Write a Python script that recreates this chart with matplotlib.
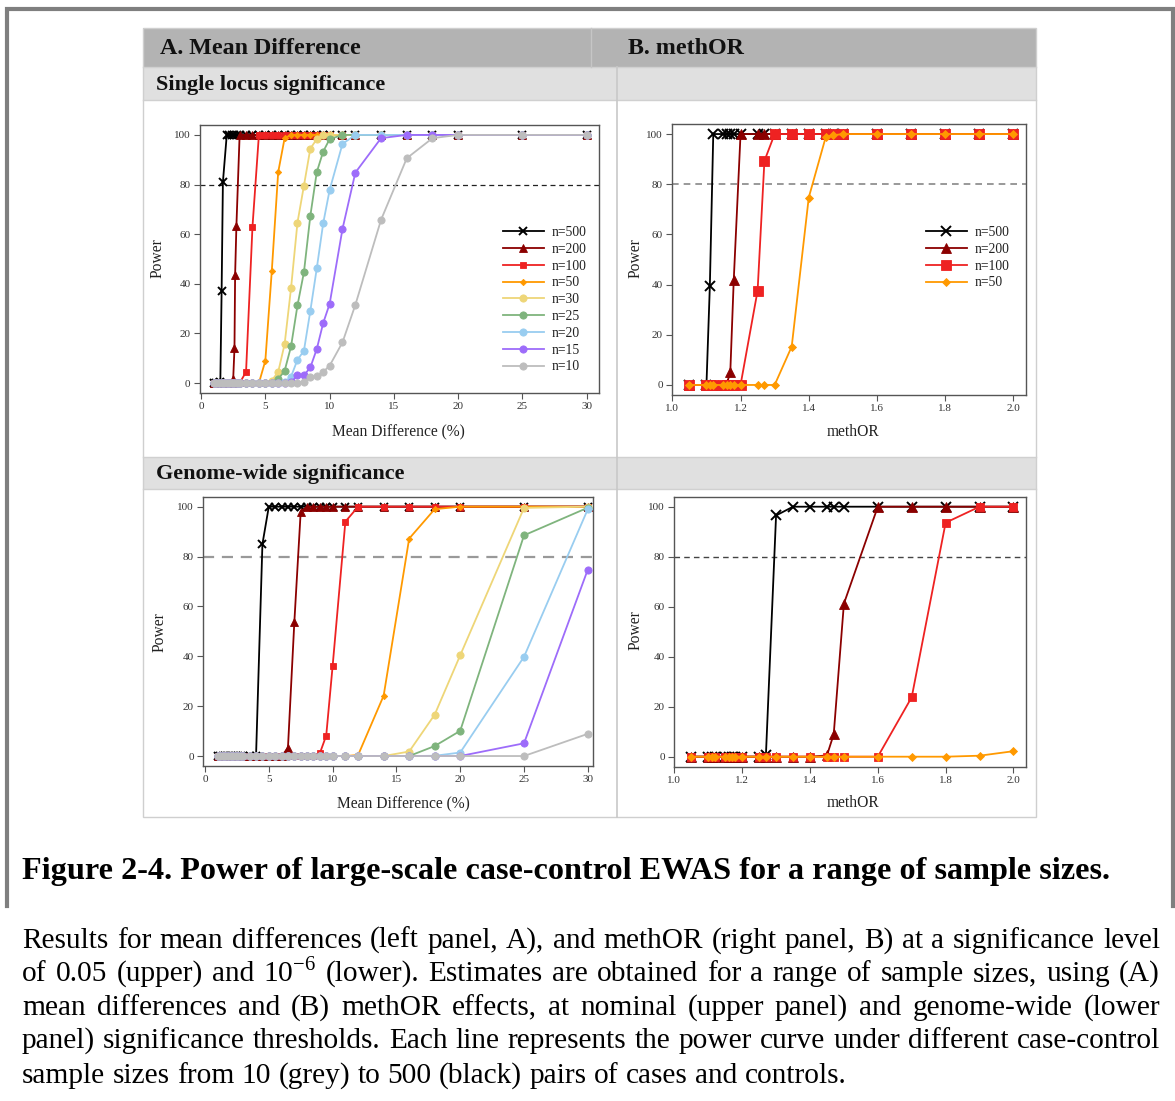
import matplotlib
matplotlib.use("Agg")
import matplotlib.pyplot as plt
from matplotlib.patches import Rectangle
from matplotlib.lines import Line2D

plt.rcParams['font.family'] = ['Liberation Serif', 'DejaVu Serif']
plt.rcParams['mathtext.fontset'] = 'custom'
plt.rcParams['mathtext.rm'] = 'Liberation Serif'

W, H = 1175, 1101

# ---- data (power in %) ----
LABELS = ['n=500', 'n=200', 'n=100', 'n=50', 'n=30', 'n=25', 'n=20', 'n=15', 'n=10']

MD_X = [1, 1.2, 1.4, 1.6, 1.8, 2, 2.2, 2.4, 2.6, 2.8,
        3, 3.5, 4, 4.5, 5, 5.5, 6, 6.5, 7, 7.5,
        8, 8.5, 9, 9.5, 10, 11, 12, 14, 16, 18,
        20, 25, 30]
TL_500_X = [1, 1.2, 1.4, 1.5, 1.6, 1.7, 2, 2.2, 2.4, 2.6,
            2.8, 3, 3.5, 4, 4.5, 5, 5.5, 6, 6.5, 7,
            7.5, 8, 8.5, 9, 9.5, 10, 11, 12, 14, 16,
            18, 20, 25, 30]
TL_200_X = [1, 1.2, 1.4, 1.6, 1.8, 2, 2.2, 2.4, 2.5, 2.6,
            2.65, 2.75, 3, 3.5, 4, 4.5, 5, 5.5, 6, 6.5,
            7, 7.5, 8, 8.5, 9, 9.5, 10, 11, 12, 14,
            16, 18, 20, 25, 30]

# A. mean difference, single locus
TL_500 = [0, 0, 0, 0.5, 37, 81, 100, 100, 100, 100,
          100, 100, 100, 100, 100, 100, 100, 100, 100, 100,
          100, 100, 100, 100, 100, 100, 100, 100, 100, 100,
          100, 100, 100, 100]
TL_200 = [0, 0, 0, 0, 0, 0, 0, 0, 1.6, 14,
          43.6, 63.3, 100, 100, 100, 100, 100, 100, 100, 100,
          100, 100, 100, 100, 100, 100, 100, 100, 100, 100,
          100, 100, 100, 100, 100]
TL_100 = [0, 0, 0, 0, 0, 0, 0, 0, 0, 0,
          0, 4.5, 63, 100, 100, 100, 100, 100, 100, 100,
          100, 100, 100, 100, 100, 100, 100, 100, 100, 100,
          100, 100, 100]
TL_50 = [0, 0, 0, 0, 0, 0, 0, 0, 0, 0,
         0, 0, 0, 0, 9, 45, 85, 98.7, 100, 100,
         100, 100, 100, 100, 100, 100, 100, 100, 100, 100,
         100, 100, 100]
TL_30 = [0, 0, 0, 0, 0, 0, 0, 0, 0, 0,
         0, 0, 0, 0, 0, 1, 4.5, 15.7, 38.3, 64.7,
         79.5, 94.5, 98.3, 100, 100, 100, 100, 100, 100, 100,
         100, 100, 100]
TL_25 = [0, 0, 0, 0, 0, 0, 0, 0, 0, 0,
         0, 0, 0, 0, 0, 0, 1.6, 4.9, 14.8, 31.3,
         44.6, 67.4, 85, 93.3, 98.3, 100, 100, 100, 100, 100,
         100, 100, 100]
TL_20 = [0, 0, 0, 0, 0, 0, 0, 0, 0, 0,
         0, 0, 0, 0, 0, 0, 0, 0.3, 2.6, 9.4,
         13, 29.1, 46.2, 64.4, 77.8, 96.4, 100, 100, 100, 100,
         100, 100, 100]
TL_15 = [0, 0, 0, 0, 0, 0, 0, 0, 0, 0,
         0, 0, 0, 0, 0, 0, 0, 0, 0.3, 3.1,
         3.1, 6.3, 13.7, 24.2, 31.9, 62.1, 84.8, 98.7, 100, 100,
         100, 100, 100]
TL_10 = [0, 0, 0, 0, 0, 0, 0, 0, 0, 0,
         0, 0, 0, 0, 0, 0, 0, 0, 0, 0,
         0.5, 2.3, 2.7, 4.5, 7, 16.4, 31.5, 65.8, 90.6, 98.7,
         100, 100, 100]

# A. mean difference, genome-wide
BL_500 = [0, 0, 0, 0, 0, 0, 0, 0, 0, 0,
          0, 0, 0, 85, 100, 100, 100, 100, 100, 100,
          100, 100, 100, 100, 100, 100, 100, 100, 100, 100,
          100, 100, 100]
BL_200 = [0, 0, 0, 0, 0, 0, 0, 0, 0, 0,
          0, 0, 0, 0, 0, 0, 0, 3.2, 53.6, 98,
          100, 100, 100, 100, 100, 100, 100, 100, 100, 100,
          100, 100, 100]
BL_100 = [0, 0, 0, 0, 0, 0, 0, 0, 0, 0,
          0, 0, 0, 0, 0, 0, 0, 0, 0, 0,
          0, 0, 1.1, 8.2, 36, 94, 100, 100, 100, 100,
          100, 100, 100]
BL_50 = [0, 0, 0, 0, 0, 0, 0, 0, 0, 0,
         0, 0, 0, 0, 0, 0, 0, 0, 0, 0,
         0, 0, 0, 0, 0, 0, 0.4, 24.2, 87.2, 99,
         100, 100, 100]
BL_30 = [0, 0, 0, 0, 0, 0, 0, 0, 0, 0,
         0, 0, 0, 0, 0, 0, 0, 0, 0, 0,
         0, 0, 0, 0, 0, 0, 0, 0, 1.8, 16.6,
         40.4, 99.5, 100]
BL_25 = [0, 0, 0, 0, 0, 0, 0, 0, 0, 0,
         0, 0, 0, 0, 0, 0, 0, 0, 0, 0,
         0, 0, 0, 0, 0, 0, 0, 0, 0, 4,
         10.1, 88.5, 99.6]
BL_20 = [0, 0, 0, 0, 0, 0, 0, 0, 0, 0,
         0, 0, 0, 0, 0, 0, 0, 0, 0, 0,
         0, 0, 0, 0, 0, 0, 0, 0, 0, 0.1,
         1.4, 39.8, 99]
BL_15 = [0, 0, 0, 0, 0, 0, 0, 0, 0, 0,
         0, 0, 0, 0, 0, 0, 0, 0, 0, 0,
         0, 0, 0, 0, 0, 0, 0, 0, 0, 0,
         0, 5.1, 74.8]
BL_10 = [0, 0, 0, 0, 0, 0, 0, 0, 0, 0,
         0, 0, 0, 0, 0, 0, 0, 0, 0, 0,
         0, 0, 0, 0, 0, 0, 0, 0, 0, 0,
         0, 0, 8.9]

# B. methOR
OR_X = [1.05, 1.1, 1.11, 1.12, 1.15, 1.16, 1.17, 1.18, 1.2, 1.25,
        1.27, 1.3, 1.35, 1.4, 1.45, 1.47, 1.5, 1.6, 1.7, 1.8,
        1.9, 2.0]
TR_500 = [0, 0, 39.6, 100, 100, 100, 100, 100, 100, 100,
          100, 100, 100, 100, 100, 100, 100, 100, 100, 100,
          100, 100]
TR_200 = [0, 0, 0, 0, 0, 0.5, 5.3, 41.7, 100, 100,
          100, 100, 100, 100, 100, 100, 100, 100, 100, 100,
          100, 100]
TR_100 = [0, 0, 0, 0, 0, 0, 0, 0, 0, 37.6,
          89.3, 100, 100, 100, 100, 100, 100, 100, 100, 100,
          100, 100]
TR_50 = [0, 0, 0, 0, 0, 0, 0, 0, 0, 0,
         0, 0, 15.3, 74.7, 98.9, 99.5, 100, 100, 100, 100,
         100, 100]
BR_500 = [0, 0, 0, 0, 0, 0, 0, 0, 0, 0,
          0.5, 96.5, 100, 100, 100, 100, 100, 100, 100, 100,
          100, 100]
BR_200 = [0, 0, 0, 0, 0, 0, 0, 0, 0, 0,
          0, 0, 0, 0, 0.5, 9, 61.2, 100, 100, 100,
          100, 100]
BR_100 = [0, 0, 0, 0, 0, 0, 0, 0, 0, 0,
          0, 0, 0, 0, 0, 0, 0, 0, 23.8, 93.6,
          100, 100]
BR_50 = [0, 0, 0, 0, 0, 0, 0, 0, 0, 0,
         0, 0, 0, 0, 0, 0, 0, 0, 0, 0,
         0.4, 2.2]

COLORS = ['black', '#8b0000', '#ee2222', '#ff9900', '#eed678',
          '#7fb47d', '#99cdf0', '#9d6cfa', '#bdbdbd']
MARKERS = ['x', '^', 's', 'D', 'o', 'o', 'o', 'o', 'o']

CAPTION_TITLE = "Figure 2-4. Power of large-scale case-control EWAS for a range of sample sizes."
CAPTION_LINES = [
    "Results for mean differences (left panel, A), and methOR (right panel, B) at a significance level",
    "of 0.05 (upper) and 10$^{\\mathregular{-6}}$ (lower). Estimates are obtained for a range of sample sizes, using (A)",
    "mean differences and (B) methOR effects, at nominal (upper panel) and genome-wide (lower",
    "panel) significance thresholds. Each line represents the power curve under different case-control",
    "sample sizes from 10 (grey) to 500 (black) pairs of cases and controls.",
]

fig = plt.figure(figsize=(W / 100, H / 100), dpi=100)


def px_axes(x0, y0, x1, y1):
    return fig.add_axes([x0 / W, 1 - y1 / H, (x1 - x0) / W, (y1 - y0) / H])


def px_rect(x0, y0, x1, y1, **kw):
    fig.patches.append(Rectangle((x0 / W, 1 - y1 / H), (x1 - x0) / W, (y1 - y0) / H,
                                 transform=fig.transFigure, figure=fig, **kw))


def px_line(xs, ys, **kw):
    fig.lines.append(Line2D([x / W for x in xs], [1 - y / H for y in ys],
                            transform=fig.transFigure, figure=fig, **kw))


def px_text(x, y, s, **kw):
    return fig.text(x / W, 1 - y / H, s, **kw)


# ---- page border and table ----
px_line([7, 7, 1173, 1173], [906, 9, 9, 906], color='#7f7f7f', lw=3, solid_joinstyle='miter')

px_rect(143, 28, 1036, 67, facecolor='#b3b3b3', edgecolor='none')
px_rect(143, 67, 1036, 100, facecolor='#e0e0e0', edgecolor='none')
px_rect(143, 457, 1036, 489, facecolor='#e0e0e0', edgecolor='none')
px_rect(143, 28, 1036, 817, facecolor='none', edgecolor='#cfcfcf', lw=1)
for yy in [67, 100, 457, 489]:
    px_line([143, 1036], [yy, yy], color='#d0d0d0', lw=1)
px_line([591, 591], [28, 67], color='#c6c6c6', lw=1)
px_line([617, 617], [67, 817], color='#c8c8c8', lw=1.2)

px_text(160, 48, "A. Mean Difference", fontsize=17.3, fontweight='bold', va='center', color='#111')
px_text(628, 48, "B. methOR", fontsize=17.3, fontweight='bold', va='center', color='#111')
px_text(156, 85, "Single locus significance", fontsize=16, fontweight='bold', va='center', color='#111')
px_text(156, 474, "Genome-wide significance", fontsize=16, fontweight='bold', va='center', color='#111')


def style_axes(ax, xlim, xticks, xticklabels):
    ax.set_xlim(*xlim)
    ax.set_ylim(-4, 104)
    ax.set_xticks(xticks)
    ax.set_xticklabels(xticklabels)
    ax.set_yticks([0, 20, 40, 60, 80, 100])
    for s in ax.spines.values():
        s.set_color('#555555')
        s.set_linewidth(1.0)
    ax.tick_params(direction='out', length=4, width=0.8, color='#555555',
                   labelsize=8, labelcolor='#333333', pad=2.5)


def draw_series(ax, xs, ys, ms_scale):
    for i, (x, y) in enumerate(zip(xs, ys)):
        m = MARKERS[i]
        ms = {'x': 6, '^': 5.5, 's': 5, 'D': 3.2, 'o': 5.2}[m] * ms_scale
        mec = COLORS[i]
        mfc = COLORS[i] if m != 'x' else 'none'
        ax.plot(x, y, color=COLORS[i], lw=1.3, marker=m, ms=ms, mfc=mfc, mec=mec,
                mew=1.4 if m == 'x' else 0.6, label=LABELS[i], zorder=3 + i, clip_on=False)


md_ticks = [0, 5, 10, 15, 20, 25, 30]
or_ticks = [1.0, 1.2, 1.4, 1.6, 1.8, 2.0]
or_labels = ['1.0', '1.2', '1.4', '1.6', '1.8', '2.0']

# top-left
ax = px_axes(199.5, 125, 599, 393)
ax.axhline(80, color='#222222', lw=0.9, ls=(0, (4, 3)), zorder=1)
draw_series(ax, [TL_500_X, TL_200_X] + [MD_X] * 7,
            [TL_500, TL_200, TL_100, TL_50, TL_30, TL_25, TL_20, TL_15, TL_10], 1.0)
style_axes(ax, (-0.12, 30.95), md_ticks, [str(t) for t in md_ticks])
ax.legend(loc='upper left', bbox_to_anchor=(503 / W, 1 - 226 / H), bbox_transform=fig.transFigure,
          frameon=False, fontsize=9.8, handlelength=3.0, handletextpad=0.6, labelspacing=0.28,
          borderpad=0, borderaxespad=0, labelcolor='#222222')

# top-right
ax = px_axes(672, 124, 1026, 395)
ax.axhline(80, color='#888888', lw=1.2, ls=(0, (4, 3)), zorder=1)
draw_series(ax, [OR_X] * 4, [TR_500, TR_200, TR_100, TR_50], 1.3)
style_axes(ax, (0.999, 2.037), or_ticks, or_labels)
ax.legend(loc='upper left', bbox_to_anchor=(926 / W, 1 - 226 / H), bbox_transform=fig.transFigure,
          frameon=False, fontsize=9.8, handlelength=3.0, handletextpad=0.6, labelspacing=0.28,
          borderpad=0, borderaxespad=0, labelcolor='#222222')

# bottom-left
ax = px_axes(202.7, 496.7, 593.3, 766)
ax.axhline(80, color='#999999', lw=1.6, ls=(0, (5, 3.5)), zorder=1)
draw_series(ax, [MD_X] * 9,
            [BL_500, BL_200, BL_100, BL_50, BL_30, BL_25, BL_20, BL_15, BL_10], 1.0)
style_axes(ax, (-0.18, 30.43), md_ticks, [str(t) for t in md_ticks])

# bottom-right
ax = px_axes(674, 496.7, 1026, 766.7)
ax.axhline(80, color='#444444', lw=1.0, ls=(0, (4, 3)), zorder=1)
draw_series(ax, [OR_X] * 4, [BR_500, BR_200, BR_100, BR_50], 1.2)
style_axes(ax, (0.999, 2.037), or_ticks, or_labels)

# axis titles
lab = dict(fontsize=11.2, color='#222222', ha='center', va='center')
px_text(398, 432, "Mean Difference (%)", **lab)
px_text(853, 432, "methOR", **lab)
px_text(403, 804, "Mean Difference (%)", **lab)
px_text(853, 803, "methOR", **lab)
px_text(158, 258, "Power", rotation=90, **lab)
px_text(636, 258, "Power", rotation=90, **lab)
px_text(160, 632, "Power", rotation=90, **lab)
px_text(636, 630, "Power", rotation=90, **lab)

# ---- caption ----
px_text(22, 879, CAPTION_TITLE, fontsize=23.2, fontweight='bold', va='baseline', color='black')

renderer = fig.canvas.get_renderer()
fs = 21.2
baselines = [948, 981, 1015, 1048, 1083]
left, right = 22, 1160
for k, line in enumerate(CAPTION_LINES):
    words = line.split(' ')
    texts = [px_text(left, baselines[k], w, fontsize=fs, va='baseline', color='black') for w in words]
    widths = [t.get_window_extent(renderer).width for t in texts]
    if k == len(CAPTION_LINES) - 1:
        gap = fs * 0.25 * 100 / 72
    else:
        gap = (right - left - sum(widths)) / (len(words) - 1)
    xx = left
    for t, w in zip(texts, widths):
        t.set_x(xx / W)
        xx += w + gap

fig.savefig("out.png", dpi=100)
